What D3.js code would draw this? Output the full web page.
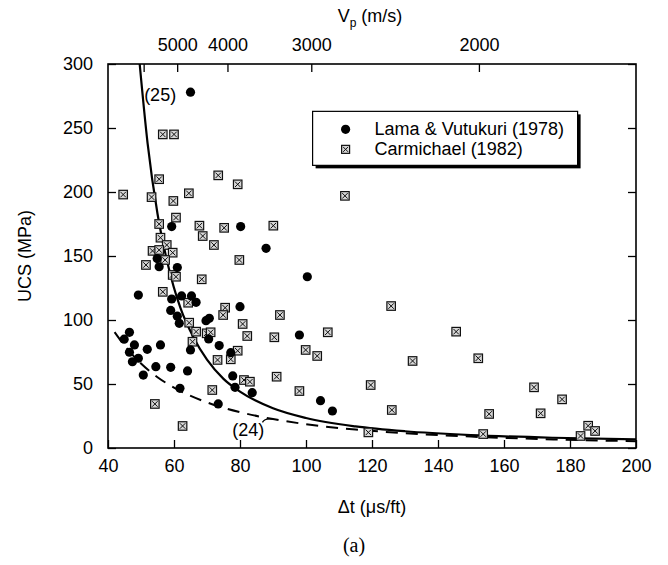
<!DOCTYPE html>
<html>
<head>
<meta charset="utf-8">
<script src="https://cdn.jsdelivr.net/npm/d3@7"></script>
<style>
  body { margin: 0; background: #ffffff; }
  #chart { width: 668px; height: 565px; }
</style>
</head>
<body>
<div id="chart"></div>
<script>
// Lama & Vutukuri (1978): [dt (us/ft), UCS (MPa)]
const lamaData = [
  [65.0, 278], [59.3, 173], [80.2, 173], [87.9, 156], [54.9, 148], [55.5, 141.6],
  [61.0, 141], [49.2, 119.5], [59.3, 116.4], [62.3, 118.8], [65.3, 118.8], [66.7, 113.8],
  [80.0, 110.4], [59.0, 107.5], [61.0, 103], [61.6, 97.4], [69.7, 99.5], [70.7, 101.3],
  [46.5, 90.4], [70.5, 85.2], [44.9, 85], [48.0, 80.5], [55.9, 80.5], [73.7, 80],
  [51.9, 77.1], [65.0, 76.6], [46.5, 74.8], [77.2, 74.5], [49.2, 70.1], [47.4, 67.4],
  [54.5, 63.5], [59.0, 63], [64.1, 60.2], [50.7, 57], [77.8, 56.3], [78.5, 47.4],
  [83.7, 43.2], [61.8, 46.6], [73.4, 34.4], [100.4, 133.8], [98.0, 88.3], [104.4, 37],
  [108.0, 28.9]
];

// Carmichael (1982)
const carmichaelData = [
  [56.6, 245], [60.0, 245], [55.5, 210], [73.4, 213], [79.3, 206], [44.6, 198],
  [64.5, 199], [53.2, 196], [59.8, 193], [60.6, 180], [55.5, 175], [67.7, 173.7],
  [75.2, 172], [68.7, 165.6], [55.9, 164.3], [72.1, 158.6], [57.8, 158.6], [53.5, 154],
  [55.5, 154.7], [59.6, 152.6], [57.3, 146.9], [79.8, 146.9], [51.5, 143], [59.6, 135.2],
  [60.6, 133.8], [68.4, 131.8], [56.6, 122], [64.3, 113.5], [75.5, 109.6], [74.9, 103.9],
  [64.6, 97.9], [80.8, 96.9], [82.2, 87.5], [66.7, 90.9], [69.9, 89.6], [71.1, 90.4],
  [65.6, 83], [79.3, 76], [73.2, 68.8], [77.2, 69.3], [81.2, 53.1], [83.0, 51.8],
  [71.6, 45.3], [54.2, 34.4], [62.6, 17.2], [111.8, 197], [90.1, 173.7], [125.8, 110.9],
  [92.1, 103.9], [90.4, 86.5], [106.6, 90.4], [99.9, 76.6], [103.4, 71.9], [132.3, 68],
  [91.1, 55.7], [119.6, 49.2], [98.0, 44.5], [126.0, 29.7], [118.9, 12.2], [145.5, 90.9],
  [152.2, 70.1], [169.1, 47.4], [177.6, 38], [155.5, 26.6], [171.1, 27.1], [153.7, 10.9],
  [185.5, 17.4], [187.6, 13.3], [183.2, 9.4]
];

// curve (25)
const curve25 = [
  [49.6, 300], [52, 238], [55, 183], [58, 145], [62, 109], [66, 86], [70, 69],
  [75, 54], [80, 44], [90, 31], [100, 23.4], [115, 16.9], [130, 13.1], [150, 10.1],
  [175, 8.0], [200, 6.8]
];

// curve (24), dashed
const curve24 = [
  [42, 90.5], [45, 80], [50, 66], [55, 55.3], [60, 47.2], [70, 35.6], [80, 28],
  [90, 22.6], [100, 18.6], [115, 14.4], [130, 11.6], [150, 8.9], [175, 6.7], [200, 5.3]
];

const xTicks = [40, 60, 80, 100, 120, 140, 160, 180, 200];
const yTicks = [0, 50, 100, 150, 200, 250, 300];
const vpTicks = [6000, 5000, 4000, 3000, 2000];
const vpLabels = ["", "5000", "4000", "3000", "2000"];

const margin = {top: 64, right: 32, bottom: 117, left: 108},
  width = 668 - margin.left - margin.right,
  height = 565 - margin.top - margin.bottom;

const font = "'Liberation Sans', Arial, sans-serif";

const svg = d3.select("#chart")
  .append("svg")
  .attr("width", width + margin.left + margin.right)
  .attr("height", height + margin.top + margin.bottom)
  .append("g")
  .attr("transform", `translate(${margin.left},${margin.top})`);

const x = d3.scaleLinear().domain([40, 200]).range([0, width]);
const y = d3.scaleLinear().domain([0, 300]).range([height, 0]);

svg.append("clipPath").attr("id", "clip")
  .append("rect").attr("width", width).attr("height", height);

function styleAxis(g) {
  g.select(".domain").remove();
  g.selectAll("line").attr("stroke", "#000").attr("stroke-width", 1.3);
  g.selectAll("text")
    .style("font-family", font)
    .style("font-size", "18px")
    .attr("fill", "#000");
}

// bottom axis
svg.append("g")
  .attr("transform", `translate(0,${height})`)
  .call(d3.axisBottom(x).tickValues(xTicks).tickSize(-8).tickPadding(11))
  .call(styleAxis);

// left axis
svg.append("g")
  .call(d3.axisLeft(y).tickValues(yTicks).tickSize(-8).tickPadding(15))
  .call(styleAxis);

// right axis, ticks only
svg.append("g")
  .attr("transform", `translate(${width},0)`)
  .call(d3.axisRight(y).tickValues(yTicks).tickSize(-8).tickFormat(""))
  .call(styleAxis);

// top axis: Vp (m/s), dt = 304800 / Vp
svg.append("g")
  .call(d3.axisTop(x)
    .tickValues(vpTicks.map(v => 304800 / v))
    .tickFormat((d, i) => vpLabels[i])
    .tickSize(-8)
    .tickPadding(13))
  .call(styleAxis);

// frame
svg.append("rect")
  .attr("width", width)
  .attr("height", height)
  .attr("fill", "none")
  .attr("stroke", "#000")
  .attr("stroke-width", 1.6);

// axis titles
svg.append("text")
  .attr("transform", "rotate(-90)")
  .attr("x", -height / 2)
  .attr("y", -77)
  .attr("text-anchor", "middle")
  .style("font-family", font)
  .style("font-size", "18px")
  .text("UCS (MPa)");

svg.append("text")
  .attr("x", width / 2)
  .attr("y", height + 65)
  .attr("text-anchor", "middle")
  .style("font-family", font)
  .style("font-size", "18px")
  .text("Δt (μs/ft)");

const vp = svg.append("text")
  .attr("x", width / 2 - 2)
  .attr("y", -42)
  .attr("text-anchor", "middle")
  .style("font-family", font)
  .style("font-size", "18px");
vp.append("tspan").text("V");
vp.append("tspan").attr("dy", 5).style("font-size", "12px").text("p");
vp.append("tspan").attr("dy", -5).text(" (m/s)");

svg.append("text")
  .attr("x", width / 2 - 18)
  .attr("y", height + 104)
  .attr("text-anchor", "middle")
  .style("font-family", "'Liberation Serif', 'Times New Roman', serif")
  .style("font-size", "20px")
  .text("(a)");

// curves
const line = d3.line()
  .x(d => x(d[0]))
  .y(d => y(d[1]))
  .curve(d3.curveMonotoneX);

const curves = svg.append("g").attr("clip-path", "url(#clip)");

curves.append("path")
  .datum(curve25)
  .attr("fill", "none")
  .attr("stroke", "#000")
  .attr("stroke-width", 2.2)
  .attr("d", line);

curves.append("path")
  .datum(curve24)
  .attr("fill", "none")
  .attr("stroke", "#000")
  .attr("stroke-width", 2)
  .attr("stroke-dasharray", "12,8")
  .attr("d", line);

// curve labels
svg.append("text")
  .attr("x", x(55.8))
  .attr("y", y(271))
  .attr("text-anchor", "middle")
  .style("font-family", font)
  .style("font-size", "18px")
  .text("(25)");

svg.append("text")
  .attr("x", x(82.5))
  .attr("y", y(9))
  .attr("text-anchor", "middle")
  .style("font-family", font)
  .style("font-size", "18px")
  .text("(24)");

svg.append("path")
  .attr("d", `M${x(86.8)},${y(20)} Q${x(87.5)},${y(23.5)} ${x(90)},${y(22.5)}`)
  .attr("fill", "none")
  .attr("stroke", "#000")
  .attr("stroke-width", 1.3);

// markers
function drawSquare(g, cx, cy, s) {
  g.append("rect")
    .attr("x", cx - s / 2).attr("y", cy - s / 2)
    .attr("width", s).attr("height", s)
    .attr("fill", "#d6d6d6")
    .attr("stroke", "#111")
    .attr("stroke-width", 1.2);
  g.append("path")
    .attr("d", `M${cx - s / 2 + 1.5},${cy - s / 2 + 1.5}L${cx + s / 2 - 1.5},${cy + s / 2 - 1.5}` +
      `M${cx + s / 2 - 1.5},${cy - s / 2 + 1.5}L${cx - s / 2 + 1.5},${cy + s / 2 - 1.5}`)
    .attr("stroke", "#111")
    .attr("stroke-width", 1);
}

const sq = svg.append("g");
carmichaelData.forEach(d => drawSquare(sq, x(d[0]), y(d[1]), 8.5));

svg.append("g")
  .selectAll("circle")
  .data(lamaData)
  .enter()
  .append("circle")
  .attr("cx", d => x(d[0]))
  .attr("cy", d => y(d[1]))
  .attr("r", 4.6)
  .attr("fill", "#000");

// legend
const lg = svg.append("g").attr("transform", `translate(${x(102)},${y(263)})`);
const lw = 265, lh = 54;
lg.append("rect")
  .attr("x", 3).attr("y", 3)
  .attr("width", lw).attr("height", lh)
  .attr("fill", "#000");
lg.append("rect")
  .attr("width", lw).attr("height", lh)
  .attr("fill", "#fff")
  .attr("stroke", "#000")
  .attr("stroke-width", 1.2);

lg.append("circle").attr("cx", 33).attr("cy", 18).attr("r", 4.6).attr("fill", "#000");
drawSquare(lg, 33, 38, 8);

lg.append("text")
  .attr("x", 62).attr("y", 24)
  .style("font-family", font)
  .style("font-size", "18px")
  .text("Lama & Vutukuri (1978)");
lg.append("text")
  .attr("x", 62).attr("y", 44)
  .style("font-family", font)
  .style("font-size", "18px")
  .text("Carmichael (1982)");
</script>
</body>
</html>
